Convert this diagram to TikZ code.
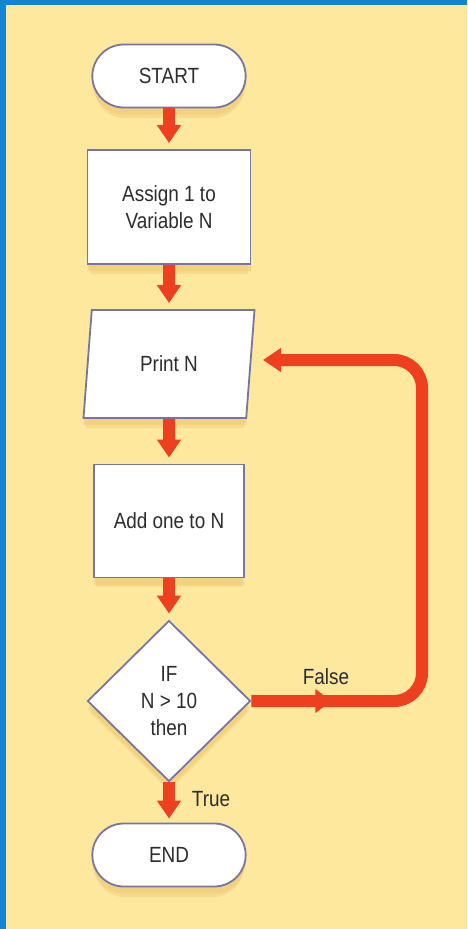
\documentclass[tikz,border=0pt]{standalone}
\usepackage{fontspec}
\setmainfont{Liberation Sans}[FakeStretch=0.86]
\usetikzlibrary{shapes.geometric,shapes.misc,arrows.meta,decorations.markings,shadows}
\definecolor{bgblue}{RGB}{18,132,212}
\definecolor{bgyellow}{RGB}{253,232,158}
\definecolor{flowred}{RGB}{236,64,32}
\definecolor{boxline}{RGB}{118,118,165}
\definecolor{boxshadow}{RGB}{240,205,120}
\definecolor{textgray}{RGB}{45,45,45}
\begin{document}
\begin{tikzpicture}[
    x=1pt, y=-1pt,
    every node/.style={font=\fontsize{22}{27}\selectfont, text=textgray, align=center},
    box/.style={draw=boxline, line width=1.8pt, fill=white,
      drop shadow={shadow xshift=0pt, shadow yshift=-12pt, shadow scale=0.97, fill=boxshadow, opacity=0.45},
      drop shadow={shadow xshift=0pt, shadow yshift=-7pt, fill=boxshadow, opacity=0.6}},
    terminal/.style={box, rounded rectangle, minimum width=160pt, minimum height=63pt},
    process/.style={box, rectangle, inner sep=0pt},
    io/.style={box, trapezium, trapezium left angle=70, trapezium right angle=110,
      trapezium stretches body=true, minimum width=171pt, minimum height=108pt},
    decision/.style={box, diamond, aspect=1, inner sep=0pt, minimum width=163pt, minimum height=161pt},
    flow/.style={draw=flowred, line width=12pt, -{Triangle[width=23pt,length=18pt]}, shorten >=6pt}
  ]
  % background
  \fill[bgblue] (0,0) rectangle (467,929);
  \fill[bgyellow] (6,5) rectangle (467,929);

  \node[terminal] (start) at (169,76) {START};
  \node[process, minimum width=163pt, minimum height=114pt] (assign) at (169,207) {Assign 1 to\\Variable N};
  \node[io] (print) at (169,364) {Print N};
  \node[process, minimum width=150pt, minimum height=113pt] (add) at (169,521) {Add one to N};
  \node[decision] (test) at (169,701) {IF\\N > 10\\then};
  \node[terminal] (stop) at (169,855) {END};

  \draw[flow] (start.south) -- (assign.north);
  \draw[flow] (assign.south) -- (print.north);
  \draw[flow] (print.south) -- (add.north);
  \draw[flow] (add.south) -- (test.north);
  \draw[flow, shorten >=4pt] (test.south) -- (stop.north);

  % loop back
  \coordinate (back) at (263,360);
  \draw[flow, shorten >=0pt, rounded corners=28pt, postaction={decorate},
    decoration={markings, mark=at position 80pt with {\arrow{Triangle[width=23pt,length=16pt]}}}]
    (test.east) -| (422,360) -- (back);

  \node (falselbl) at (326,677) {False};
  \node (truelbl) at (211,799) {True};
\end{tikzpicture}
\end{document}
